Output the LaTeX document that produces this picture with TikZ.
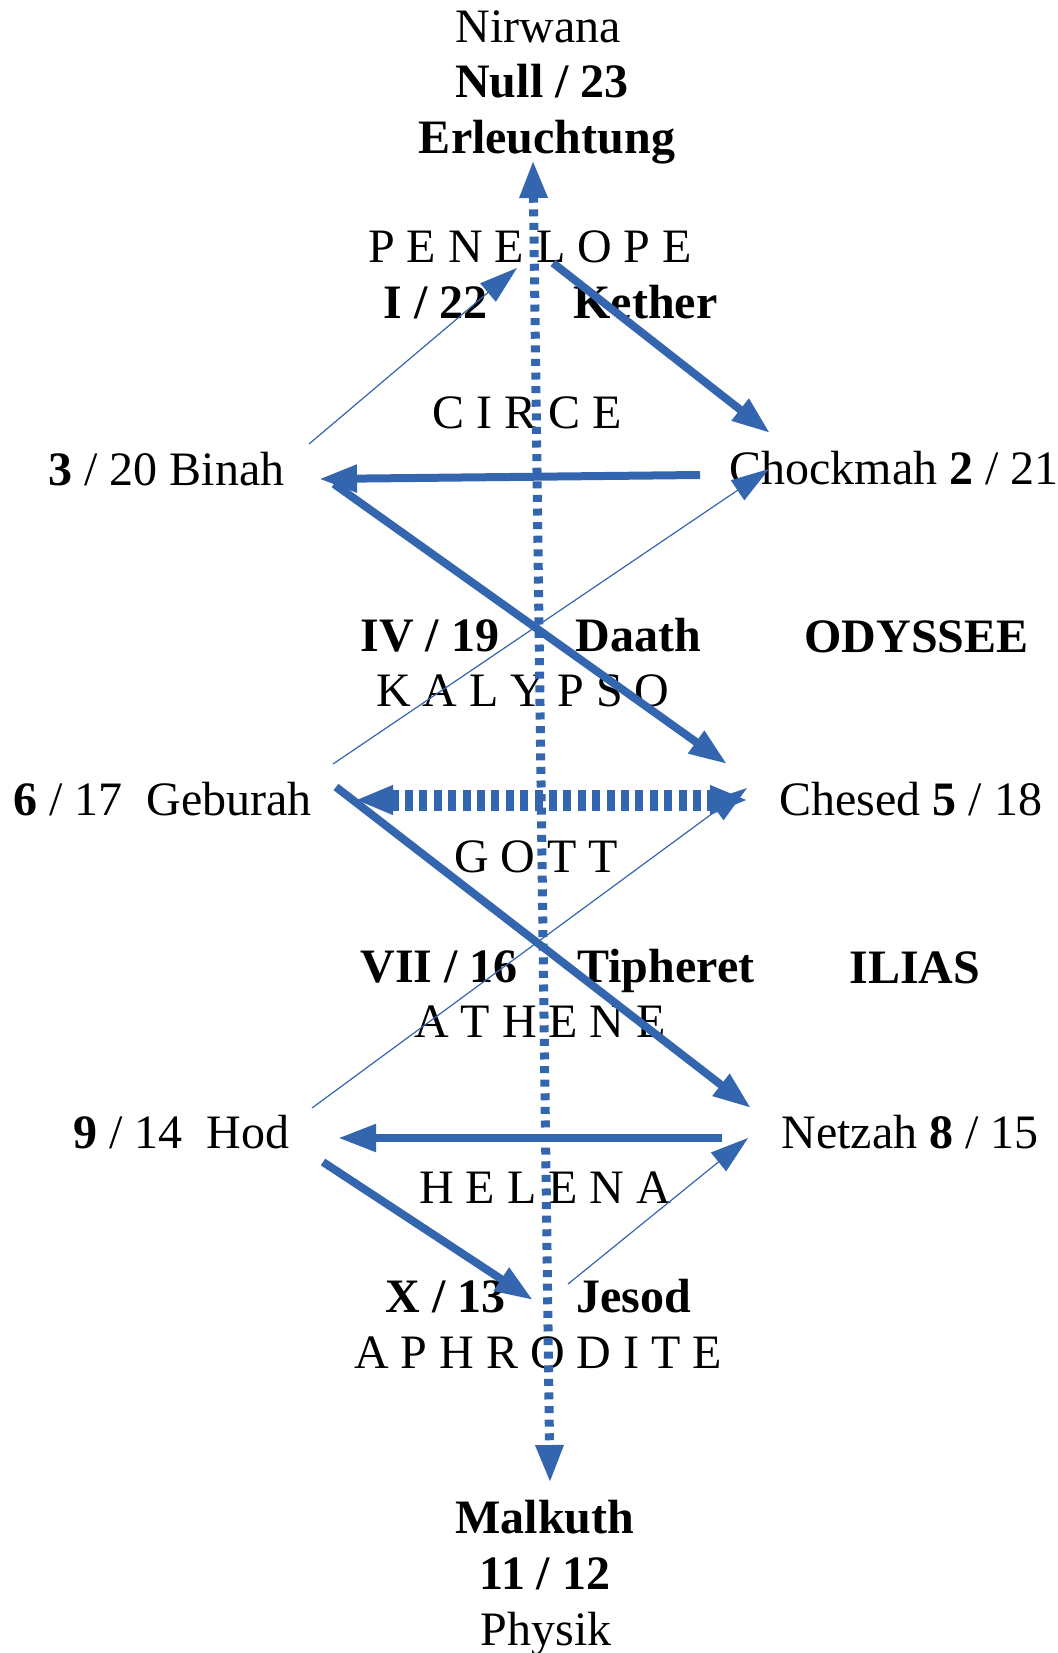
\documentclass[tikz,border=0pt]{standalone}
\usepackage{fontspec}
\setmainfont{Liberation Serif}
\usetikzlibrary{arrows.meta}
\definecolor{pathblue}{RGB}{52,101,175}

\begin{document}
\begin{tikzpicture}
    [x=0.5pt,y=-0.5pt,
     every node/.style={inner sep=0pt,font=\fontsize{24}{28}\selectfont},
     mid/.style={anchor=base},
     left/.style={anchor=base west},
     wide/.style={draw=pathblue,line width=4pt,-{Triangle[length=19pt,width=13pt]}},
     slim/.style={draw=pathblue,line width=0.6pt,-{Triangle[length=19pt,width=12pt]}},
     axis/.style={draw=pathblue,line width=4.5pt,dash pattern=on 3.5pt off 3.3pt,
       {Triangle[length=19pt,width=13pt]}-{Triangle[length=19pt,width=13pt]}},
     gate/.style={draw=pathblue,line width=10.5pt,dash pattern=on 4pt off 3.2pt,
       {Triangle[length=19pt,width=13.5pt]}-{Triangle[length=19pt,width=13.5pt]}}]
  \useasboundingbox (0,0) rectangle (1058,1653);
  % top
  \node[mid] (nirwana) at (538,43) {Nirwana};
  \node[mid] (null) at (542,98) {\textbf{Null / 23}};
  \node[mid] (erleuchtung) at (547,154) {\textbf{Erleuchtung}};
  \node[mid] (penelope) at (530,263) {P E N E L O P E};
  \node[left] (ketherno) at (383,318) {\textbf{I / 22}};
  \node[left] (kether) at (573,318) {\textbf{Kether}};
  \node[mid] (circe) at (527,428) {C I R C E};
  \node[left] (binah) at (48,485) {\textbf{3} / 20 Binah};
  \node[left] (chockmah) at (729,484) {Chockmah \textbf{2} / 21};
  % middle
  \node[left] (daathno) at (360,651) {\textbf{IV / 19}};
  \node[left] (daath) at (575,651) {\textbf{Daath}};
  \node[left] (odyssee) at (804,652) {\textbf{ODYSSEE}};
  \node[mid] (kalypso) at (523,706) {K A L Y P S O};
  \node[left] (geburah) at (13,815) {\textbf{6} / 17\enspace Geburah};
  \node[left] (chesed) at (779,815) {Chesed \textbf{5} / 18};
  \node[mid] (gott) at (536,872) {G O T T};
  \node[left] (tipheretno) at (360,982) {\textbf{VII / 16}};
  \node[left] (tipheret) at (577,982) {\textbf{Tipheret}};
  \node[left] (ilias) at (849,983) {\textbf{ILIAS}};
  \node[mid] (athene) at (540,1037) {A T H E N E};
  % bottom
  \node[left] (hod) at (73,1148) {\textbf{9} / 14\enspace Hod};
  \node[left] (netzah) at (781,1148) {Netzah \textbf{8} / 15};
  \node[mid] (helena) at (545,1203) {H E L E N A};
  \node[left] (jesodno) at (385,1312) {\textbf{X / 13}};
  \node[left] (jesod) at (576,1312) {\textbf{Jesod}};
  \node[mid] (aphrodite) at (538,1368) {A P H R O D I T E};
  \node[mid] (malkuth) at (545,1533) {\textbf{Malkuth}};
  \node[mid] (malkuthno) at (545,1589) {\textbf{11 / 12}};
  \node[mid] (physik) at (546,1645) {Physik};

  % path ends
  \coordinate (up) at (533,160);
  \coordinate (down) at (550,1483);
  \coordinate (binahNE) at (309,444);
  \coordinate (ketherIn) at (517,268);
  \coordinate (ketherOut) at (553,263);
  \coordinate (chockmahIn) at (770,433);
  \coordinate (chockmahOut) at (700,475);
  \coordinate (binahIn) at (319,479);
  \coordinate (binahOut) at (334,484);
  \coordinate (chesedIn) at (727,764);
  \coordinate (geburahNE) at (333,764);
  \coordinate (chockmahSW) at (769,469);
  \coordinate (geburahE) at (355,800);
  \coordinate (chesedW) at (748,800);
  \coordinate (hodNE) at (312,1108);
  \coordinate (chesedSW) at (747,788);
  \coordinate (geburahOut) at (336,787);
  \coordinate (netzahIn) at (751,1108);
  \coordinate (netzahOut) at (722,1138);
  \coordinate (hodIn) at (338,1138);
  \coordinate (hodOut) at (323,1162);
  \coordinate (jesodIn) at (533,1300);
  \coordinate (jesodOut) at (568,1284);
  \coordinate (netzahSW) at (748,1138);

  \draw[axis] (up) -- (down);
  \draw[gate] (geburahE) -- (chesedW);
  \draw[slim] (binahNE) -- (ketherIn);
  \draw[wide] (ketherOut) -- (chockmahIn);
  \draw[wide] (chockmahOut) -- (binahIn);
  \draw[wide] (binahOut) -- (chesedIn);
  \draw[slim] (geburahNE) -- (chockmahSW);
  \draw[slim] (hodNE) -- (chesedSW);
  \draw[wide] (geburahOut) -- (netzahIn);
  \draw[wide] (netzahOut) -- (hodIn);
  \draw[wide] (hodOut) -- (jesodIn);
  \draw[slim] (jesodOut) -- (netzahSW);
\end{tikzpicture}
\end{document}
